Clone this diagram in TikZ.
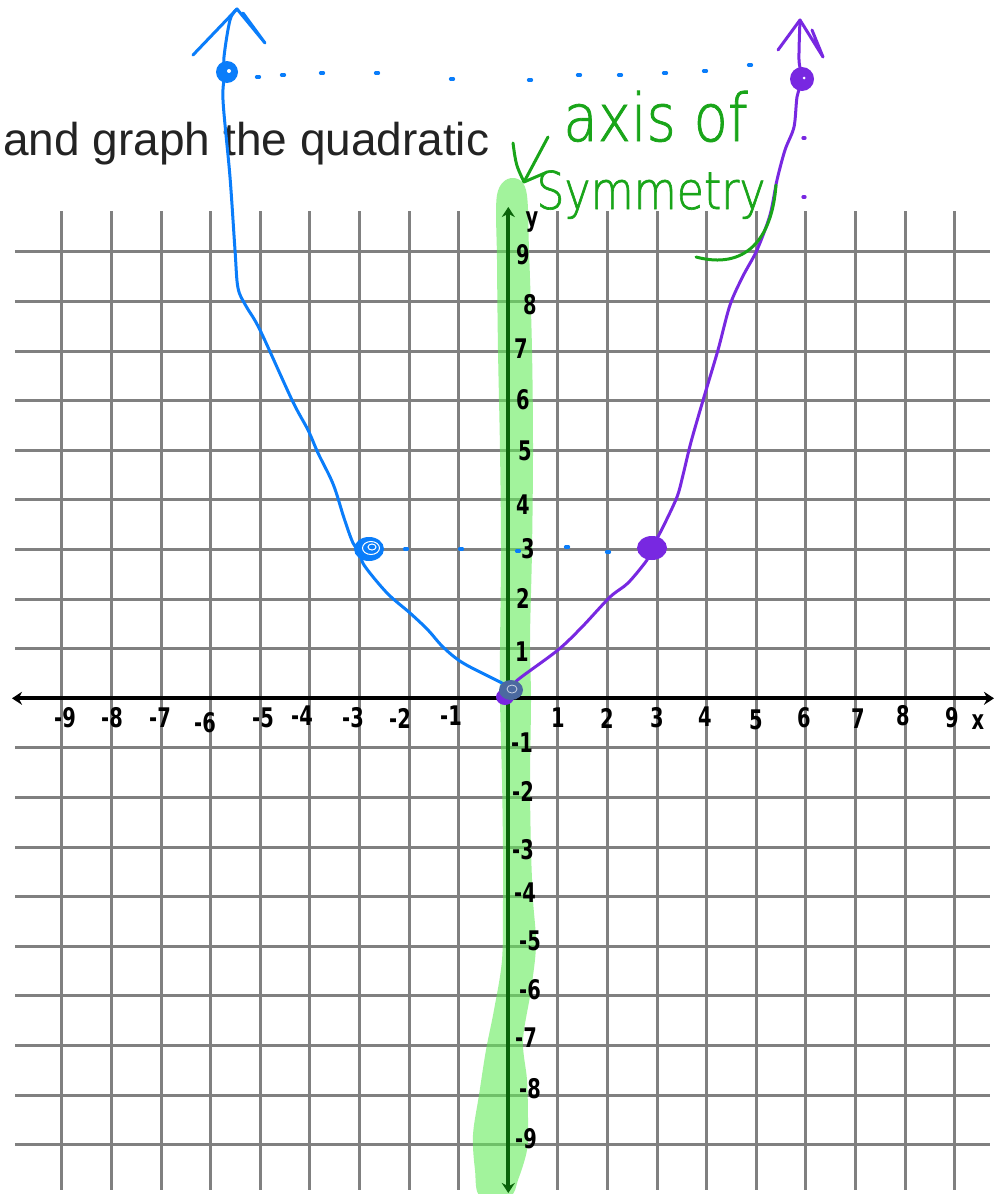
\documentclass[tikz,border=0pt]{standalone}
\usepackage{fontspec}
\setmainfont{Liberation Sans}
\newfontfamily\tickfont{DejaVu Sans}[FakeStretch=0.72]
\newfontfamily\handfont{DejaVu Sans ExtraLight}[FakeStretch=0.85,FakeBold=1.2]
\usetikzlibrary{arrows.meta}
\definecolor{gridgray}{RGB}{128,128,128}
\definecolor{penblue}{RGB}{10,125,250}
\definecolor{penpurple}{RGB}{120,40,225}
\definecolor{pengreen}{RGB}{25,165,25}
\definecolor{hlgreen}{RGB}{100,235,90}
\definecolor{axisgreen}{RGB}{10,100,10}
\definecolor{origblob}{RGB}{75,105,160}
\definecolor{titlegray}{RGB}{35,35,35}
\begin{document}
\begin{tikzpicture}[x=0.5pt,y=-0.5pt,
  gridline/.style={draw=gridgray, line width=1.5pt},
  xaxisline/.style={draw=black, line width=2pt, {Stealth[length=5pt,width=6.5pt]}-{Stealth[length=5pt,width=6.5pt]}},
  yaxisline/.style={draw=axisgreen, line width=2pt, {Stealth[length=5pt,width=6.5pt]}-{Stealth[length=5pt,width=6.5pt]}},
  ticklabel/.style={font=\tickfont\bfseries\fontsize{13.5}{15}\selectfont, text=black, inner sep=0pt},
  bluepen/.style={draw=penblue, line width=1.5pt, line cap=round, line join=round},
  purplepen/.style={draw=penpurple, line width=1.5pt, line cap=round, line join=round},
  greenpen/.style={draw=pengreen, line width=1.5pt, line cap=round, line join=round},
  dotmark/.style={line width=1.6pt, line cap=round},
  handtext/.style={anchor=base west, inner sep=0pt, text=pengreen},
]
\useasboundingbox (0,0) rectangle (994,1194);
\fill[white] (0,0) rectangle (994,1194);

% grid
\foreach \k in {-9,...,9} {
  \draw[gridline] ({508.3+49.6*\k},211) -- ({508.3+49.6*\k},1190);
  \draw[gridline] (15,{698.3-49.6*\k}) -- (990,{698.3-49.6*\k});
}

% axis of symmetry highlight
\fill[hlgreen, opacity=0.6] plot[smooth cycle, tension=0.55] coordinates {
  (511,178) (526,190) (529,250) (532,350) (533,450) (532,550) (530,640) (531,700)
  (530,780) (531,850) (533,900) (536,945) (531,990) (523,1040) (527,1080) (528,1120)
  (527,1150) (518,1180) (510,1196) (480,1196) (475,1170) (473,1135) (479,1095) (486,1050)
  (494,1010) (502,960) (503,900) (503,850) (502,780) (500,700) (500,650) (501,550)
  (500,450) (498,350) (497,260) (497,195)};

% axes
\coordinate (xl) at (12,698.3);
\coordinate (xr) at (994,698.3);
\coordinate (yt) at (508.3,207);
\coordinate (yb) at (508.3,1193);
\draw[xaxisline] (xl) -- (xr);
\draw[yaxisline] (yb) -- (yt);

% x tick labels
\foreach \t/\px/\py in {-9/65/718,-8/112/718,-7/160/718,-6/205/723,-5/263/718,-4/302/716,
  -3/353/718,-2/400/718,-1/451/716,1/558/718,2/607/718,3/657/718,4/705/717,5/756/720,
  6/804/718,7/858/719,8/903/716,9/952/718} {
  \node[ticklabel] (xt\t) at (\px,\py) {\t};
}
\node[ticklabel] (xlab) at (978,722) {x};
% y tick labels
\foreach \t/\px/\py in {9/523/255,8/530/305,7/521/349,6/523/400,5/525/451,4/523/505,
  3/528/549,2/523/598,1/522/652,-1/522/743,-2/523/791,-3/523/850,-4/525/893,-5/530/941,
  -6/530/990,-7/526/1038,-8/530/1089,-9/526/1139} {
  \node[ticklabel] (yt\t) at (\px,\py) {\t};
}
\node[ticklabel] (ylab) at (532,222) {y};

% title
\node[anchor=base west, inner sep=0pt, text=titlegray, font=\fontsize{23}{27}\selectfont] (title) at (3,155) {and graph the quadratic};

% dotted guide marks
\foreach \px/\py in {258/77,283/75,322/73,377/73,452/79,530/80,579/75,620/75,665/73,705/71,750/65} {
  \draw[penblue, dotmark] (\px-1.5,\py) -- (\px+1.5,\py);
}
\foreach \px/\py in {406/549,461/549,518/551,567/547,608/552} {
  \draw[penblue, dotmark] (\px-1.5,\py) -- (\px+1.5,\py);
}
\foreach \px/\py in {804/138,804/197} {
  \draw[penpurple, dotmark] (\px-1,\py) -- (\px+1,\py);
}

% blue branch
\draw[bluepen] plot[smooth, tension=0.55] coordinates {
  (237,9) (230,20) (224,57) (225,72) (223,100) (230,177) (235,250) (238,288) (246,306)
  (260,330) (292,400) (308,430) (318,453) (330,477) (336,492) (344,518) (353,543)
  (360,552) (364,565) (387,593) (410,613) (428,630) (443,647) (463,663) (500,682) (510,688)};
\coordinate (bluetip) at (237,9);
\coordinate (blueL) at (193,55);
\coordinate (blueR) at (265,43);
\coordinate (blueR2) at (243,13);
\draw[bluepen] (blueL) -- (bluetip) -- (blueR) -- (blueR2);
\fill[penblue] (227,72) circle (11);
\fill[white] (229,71) circle (2);
\fill[penblue] (369,549) ellipse (15 and 12);
\draw[white, line width=0.5pt] (371,548) ellipse (8.5 and 6.5);
\draw[white, line width=0.5pt] (372,547) ellipse (4 and 3);

% purple branch
\draw[purplepen] plot[smooth, tension=0.5] coordinates {
  (512,686) (520,678) (558,650) (582,627) (610,597) (628,583) (647,560) (652,548)
  (663,527) (677,497) (683,475) (691,442) (704,397) (718,350) (730,305) (743,276)
  (757,250) (770,215) (777,180) (785,150) (794,127) (797,97) (802,79) (799,60) (800,20)};
\coordinate (purtip) at (800,20);
\coordinate (purL) at (778,50);
\coordinate (purR) at (823,57);
\coordinate (purR2) at (812,30);
\draw[purplepen] (purL) -- (purtip) -- (purR) -- (purR2);
\fill[penpurple] (652,548) ellipse (15 and 12);
\fill[penpurple] (802,79) circle (12);
\fill[white] (804,78) circle (1.5);

% vertex blob
\fill[penpurple] (505,697) ellipse (9 and 8);
\fill[origblob] (511,690) ellipse (12 and 10);
\draw[white!70!origblob, line width=0.4pt] (512,689) ellipse (5 and 4);

% annotation
\node[handtext, font=\handfont\fontsize{33}{38}\selectfont] (aos1) at (563,141) {axis of};
\node[handtext, font=\handfont\fontsize{26}{30}\selectfont] (aos2) at (536,209) {Symmetry};
\coordinate (arwS) at (548,137);
\coordinate (arwT) at (524,182);
\coordinate (barbL) at (513,143);
\coordinate (barbR) at (545,173);
\draw[greenpen] (arwS) -- (arwT);
\draw[greenpen] (barbL) .. controls (516,165) .. (arwT) -- (barbR);
\coordinate (swA) at (776,185);
\coordinate (swB) at (696,257);
\draw[greenpen] (swA) .. controls (772,240) and (745,270) .. (swB);
\end{tikzpicture}
\end{document}
